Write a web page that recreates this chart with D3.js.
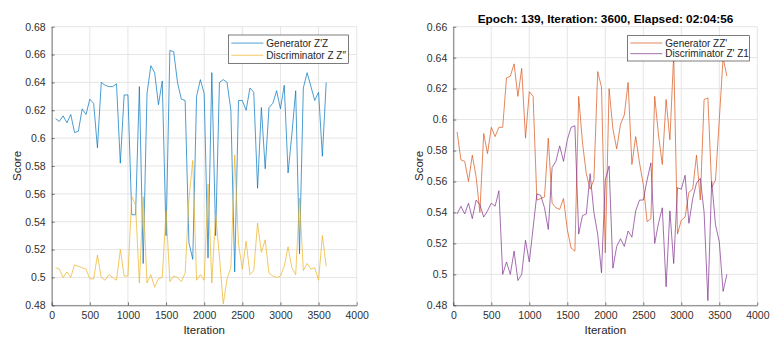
<!DOCTYPE html>
<html>
<head>
<meta charset="utf-8">
<script src="https://cdn.jsdelivr.net/npm/d3@7"></script>
<style>
  body { margin: 0; background: #fff; }
  svg { display: block; font-family: "Liberation Sans", Arial, sans-serif; }
  .tick text { fill: #303030; font-size: 10.5px; }
  .grid line { stroke: #e5e5e5; stroke-width: 1; }
</style>
</head>
<body>
<div id="chart"></div>
<script>
const WIDTH = 771;
const HEIGHT = 338;

// iterations logged every 50 steps
const iterations = [
  50, 100, 150, 200, 250, 300, 350, 400, 450, 500, 550, 600, 650, 700, 750, 800, 850, 900,
  950, 1000, 1050, 1100, 1150, 1200, 1250, 1300, 1350, 1400, 1450, 1500, 1550, 1600, 1650, 1700,
  1750, 1800, 1850, 1900, 1950, 2000, 2050, 2100, 2150, 2200, 2250, 2300, 2350, 2400, 2450, 2500,
  2550, 2600, 2650, 2700, 2750, 2800, 2850, 2900, 2950, 3000, 3050, 3100, 3150, 3200, 3250, 3300,
  3350, 3400, 3450, 3500, 3550, 3600,
];

// left panel
const genZZ = [
  0.614, 0.612, 0.616, 0.611, 0.617, 0.604, 0.605, 0.621, 0.617, 0.628, 0.625, 0.593, 0.640, 0.638, 0.637, 0.637, 0.639, 0.582,
  0.631, 0.631, 0.545, 0.545, 0.637, 0.510, 0.632, 0.652, 0.647, 0.624, 0.641, 0.530, 0.663, 0.662, 0.640, 0.628,
  0.627, 0.525, 0.513, 0.630, 0.642, 0.632, 0.514, 0.647, 0.530, 0.640, 0.642, 0.640, 0.620, 0.504, 0.627, 0.627,
  0.620, 0.636, 0.633, 0.564, 0.622, 0.578, 0.622, 0.625, 0.634, 0.621, 0.638, 0.575, 0.603, 0.634, 0.517, 0.636,
  0.647, 0.637, 0.627, 0.633, 0.587, 0.640,
];
const discZZ = [
  0.507, 0.506, 0.500, 0.504, 0.500, 0.509, 0.508, 0.507, 0.506, 0.499, 0.499, 0.516, 0.500, 0.498, 0.502, 0.500, 0.498, 0.520,
  0.501, 0.501, 0.558, 0.552, 0.496, 0.558, 0.496, 0.502, 0.493, 0.499, 0.500, 0.548, 0.497, 0.501, 0.500, 0.497,
  0.503, 0.556, 0.584, 0.498, 0.502, 0.498, 0.567, 0.496, 0.546, 0.515, 0.481, 0.499, 0.507, 0.588, 0.524, 0.506,
  0.526, 0.502, 0.505, 0.539, 0.518, 0.527, 0.503, 0.501, 0.500, 0.501, 0.508, 0.522, 0.507, 0.502, 0.557, 0.505,
  0.510, 0.506, 0.507, 0.498, 0.530, 0.508,
];

// right panel
const genZZp = [
  0.592, 0.574, 0.573, 0.560, 0.577, 0.563, 0.540, 0.591, 0.578, 0.595, 0.589, 0.595, 0.595, 0.627, 0.628, 0.636, 0.615, 0.633,
  0.588, 0.618, 0.615, 0.548, 0.549, 0.550, 0.588, 0.546, 0.543, 0.542, 0.549, 0.529, 0.517, 0.515, 0.615, 0.585,
  0.565, 0.555, 0.561, 0.631, 0.621, 0.514, 0.620, 0.594, 0.581, 0.597, 0.603, 0.624, 0.571, 0.589, 0.572, 0.558,
  0.534, 0.536, 0.615, 0.590, 0.571, 0.613, 0.587, 0.642, 0.526, 0.535, 0.537, 0.553, 0.555, 0.577, 0.548, 0.613,
  0.614, 0.556, 0.561, 0.600, 0.640, 0.628,
];
const discZpZ1 = [
  0.539, 0.544, 0.539, 0.546, 0.536, 0.548, 0.545, 0.537, 0.541, 0.546, 0.544, 0.554, 0.500, 0.508, 0.500, 0.515, 0.496, 0.500,
  0.522, 0.508, 0.530, 0.552, 0.551, 0.543, 0.529, 0.569, 0.573, 0.583, 0.573, 0.587, 0.595, 0.596, 0.526, 0.538,
  0.539, 0.565, 0.540, 0.526, 0.501, 0.561, 0.570, 0.504, 0.518, 0.523, 0.518, 0.528, 0.524, 0.541, 0.548, 0.548,
  0.561, 0.572, 0.520, 0.533, 0.543, 0.492, 0.541, 0.507, 0.556, 0.555, 0.564, 0.533, 0.549, 0.559, 0.562, 0.540,
  0.483, 0.560, 0.532, 0.521, 0.489, 0.500,
];

const xTicks = [0, 500, 1000, 1500, 2000, 2500, 3000, 3500, 4000];
const leftYTicks = [0.48, 0.5, 0.52, 0.54, 0.56, 0.58, 0.6, 0.62, 0.64, 0.66, 0.68];
const rightYTicks = [0.48, 0.5, 0.52, 0.54, 0.56, 0.58, 0.6, 0.62, 0.64, 0.66];

const TITLE = 'Epoch: 139, Iteration: 3600, Elapsed: 02:04:56';

const panels = [
  {
    left: 51.7, right: 356.7, top: 26.7, bottom: 305.3,
    yDomain: [0.48, 0.68], yTicks: leftYTicks,
    series: [
      { name: 'Generator Z\'Z', values: genZZ, color: '#0072BD' },
      { name: 'Discriminator Z Z\u2033', values: discZZ, color: '#EDB120' },
    ],
    legend: { x: 228.3, y: 35, w: 120, h: 28.3 },
    title: null,
  },
  {
    left: 453.3, right: 757.3, top: 26.7, bottom: 305.3,
    yDomain: [0.48, 0.66], yTicks: rightYTicks,
    series: [
      { name: 'Generator ZZ\'', values: genZZp, color: '#D95319' },
      { name: 'Discriminator Z\' Z1', values: discZpZ1, color: '#7E2F8E' },
    ],
    legend: { x: 627.3, y: 35.7, w: 122, h: 25.3 },
    title: TITLE,
  },
];

function drawPanel(svg, p) {
  const x = d3.scaleLinear().domain([0, 4000]).range([p.left, p.right]);
  const y = d3.scaleLinear().domain(p.yDomain).range([p.bottom, p.top]);
  const g = svg.append('g').attr('class', 'panel');

  // grid
  const grid = g.append('g').attr('class', 'grid');
  grid.selectAll('line.gx')
    .data(xTicks)
    .enter()
    .append('line')
    .attr('x1', (d) => x(d)).attr('x2', (d) => x(d))
    .attr('y1', p.top).attr('y2', p.bottom);
  grid.selectAll('line.gy')
    .data(p.yTicks)
    .enter()
    .append('line')
    .attr('x1', p.left).attr('x2', p.right)
    .attr('y1', (d) => y(d)).attr('y2', (d) => y(d));

  // axes (MATLAB style: ticks pointing in)
  const xAxis = g.append('g')
    .attr('transform', `translate(0,${p.bottom})`)
    .call(d3.axisBottom(x).tickValues(xTicks).tickFormat(d3.format('d')).tickSize(-3).tickPadding(6).tickSizeOuter(0));
  const yAxis = g.append('g')
    .attr('transform', `translate(${p.left},0)`)
    .call(d3.axisLeft(y).tickValues(p.yTicks).tickFormat(d3.format('~g')).tickSize(-3).tickPadding(6).tickSizeOuter(0));
  [xAxis, yAxis].forEach((a) => {
    a.select('.domain').attr('stroke', '#262626').attr('stroke-width', 0.6);
    a.selectAll('.tick line').attr('stroke', '#262626').attr('stroke-width', 0.6);
  });

  // labels
  g.append('text')
    .attr('x', (p.left + p.right) / 2)
    .attr('y', 334)
    .attr('text-anchor', 'middle')
    .attr('fill', '#262626')
    .attr('font-size', 11.5)
    .text('Iteration');
  g.append('text')
    .attr('transform', `translate(${p.left - 30.5},${(p.top + p.bottom) / 2}) rotate(-90)`)
    .attr('text-anchor', 'middle')
    .attr('fill', '#262626')
    .attr('font-size', 11.5)
    .text('Score');

  if (p.title) {
    g.append('text')
      .attr('x', 605.5)
      .attr('y', 22.5)
      .attr('text-anchor', 'middle')
      .attr('font-weight', 'bold')
      .attr('font-size', 11.8)
      .attr('fill', '#000')
      .text(p.title);
  }

  // lines
  const line = d3.line()
    .x((d, i) => x(iterations[i]))
    .y((d) => y(d));
  g.append('g')
    .selectAll('path.series')
    .data(p.series)
    .enter()
    .append('path')
    .attr('class', 'series')
    .attr('fill', 'none')
    .attr('stroke', (d) => d.color)
    .attr('stroke-width', 0.7)
    .attr('d', (d) => line(d.values));

  // legend
  const lg = g.append('g').attr('transform', `translate(${p.legend.x},${p.legend.y})`);
  lg.append('rect')
    .attr('width', p.legend.w)
    .attr('height', p.legend.h)
    .attr('fill', '#fff')
    .attr('stroke', '#262626')
    .attr('stroke-width', 0.6);
  const step = (p.legend.h - 4) / 2;
  const items = lg.selectAll('g.item')
    .data(p.series)
    .enter()
    .append('g')
    .attr('class', 'item')
    .attr('transform', (d, i) => `translate(0,${2 + step * (i + 0.5)})`);
  items.append('line')
    .attr('x1', 3).attr('x2', 35)
    .attr('stroke', (d) => d.color)
    .attr('stroke-width', 0.7);
  items.append('text')
    .attr('x', 38)
    .attr('dy', '0.35em')
    .attr('font-size', 10)
    .attr('fill', '#262626')
    .text((d) => d.name);
}

const svg = d3.select('#chart')
  .append('svg')
  .attr('width', WIDTH)
  .attr('height', HEIGHT);

panels.forEach((p) => drawPanel(svg, p));
</script>
</body>
</html>
